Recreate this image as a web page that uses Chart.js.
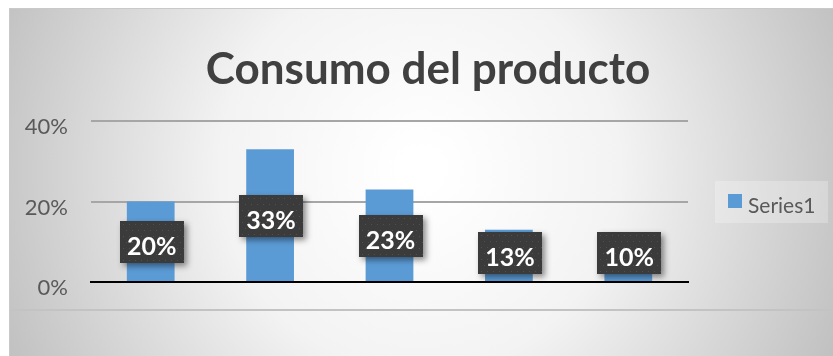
<!DOCTYPE html>
<html>
<head>
<meta charset="utf-8">
<script src="https://cdn.jsdelivr.net/npm/chart.js@4.4.1/dist/chart.umd.min.js"></script>
<style>
  html, body { margin: 0; padding: 0; background: #fff; }
  #wrap { width: 833px; height: 356px; position: relative; }
</style>
</head>
<body>
<div id="wrap"><canvas id="consumoChart" width="833" height="356"></canvas></div>
<script>
// datos del gráfico
const categorias = ['1', '2', '3', '4', '5'];
const consumo = [0.20, 0.33, 0.23, 0.13, 0.10];
const ticksY = [0, 0.2, 0.4];
const nombreSerie = 'Series1';
const titulo = 'Consumo del producto';

const azul = '#5B9BD5';
const FONT = 'Lato, "Open Sans", sans-serif';

// fondo con degradado y borde del área del gráfico
const fondoPlugin = {
    id: 'fondo',
    beforeDraw(chart) {
        const ctx = chart.ctx;
        ctx.save();
        ctx.fillStyle = '#ffffff';
        ctx.fillRect(0, 0, chart.width, chart.height);
        const g = ctx.createRadialGradient(420, 170, 20, 420, 170, 470);
        g.addColorStop(0, '#ffffff');
        g.addColorStop(0.4, '#f3f3f3');
        g.addColorStop(1, '#bdbdbd');
        ctx.fillStyle = g;
        ctx.fillRect(9, 8, chart.width - 9, chart.height - 8);
        ctx.strokeStyle = '#c9c9c9';
        ctx.lineWidth = 1;
        ctx.strokeRect(9.5, 8.5, chart.width, chart.height);
        // línea inferior
        ctx.strokeStyle = '#c3c3c3';
        ctx.lineWidth = 2;
        ctx.beginPath();
        ctx.moveTo(10, 310);
        ctx.lineTo(chart.width, 310);
        ctx.stroke();
        // título
        ctx.fillStyle = '#404040';
        ctx.font = 'bold 44px ' + FONT;
        ctx.textAlign = 'center';
        ctx.textBaseline = 'alphabetic';
        ctx.fillText(titulo, 428, 84);
        // leyenda
        ctx.fillStyle = 'rgba(255,255,255,0.25)';
        ctx.fillRect(715, 181, 113, 42);
        ctx.fillStyle = azul;
        ctx.fillRect(728, 194, 14, 14);
        ctx.fillStyle = '#595959';
        ctx.font = '21px ' + FONT;
        ctx.textAlign = 'left';
        ctx.textBaseline = 'middle';
        ctx.fillText(nombreSerie, 748, 206);
        ctx.restore();
    }
};

// etiquetas de datos en recuadro oscuro punteado
const etiquetasPlugin = {
    id: 'etiquetas',
    afterDatasetsDraw(chart) {
        const ctx = chart.ctx;
        const meta = chart.getDatasetMeta(0);
        const base = chart.scales.y.getPixelForValue(0);
        const w = 64, h = 42;
        meta.data.forEach((bar, i) => {
            const cx = bar.x + 1;
            let cy = (bar.y + base) / 2;
            cy = Math.min(cy, base - 29);
            const x = Math.round(cx - w / 2), y = Math.round(cy - h / 2);
            ctx.save();
            ctx.shadowColor = 'rgba(0,0,0,0.45)';
            ctx.shadowBlur = 6;
            ctx.shadowOffsetX = 3;
            ctx.shadowOffsetY = 3;
            ctx.fillStyle = '#3b3b3b';
            ctx.fillRect(x, y, w, h);
            ctx.restore();
            ctx.save();
            ctx.fillStyle = '#505050';
            for (let py = y + 3; py < y + h; py += 6) {
                for (let px = x + 3 + ((py - y) % 12 === 3 ? 0 : 3); px < x + w; px += 6) {
                    ctx.fillRect(px, py, 1, 1);
                }
            }
            ctx.fillStyle = '#ffffff';
            ctx.font = 'bold 25px ' + FONT;
            ctx.textAlign = 'center';
            ctx.textBaseline = 'middle';
            ctx.fillText(Math.round(consumo[i] * 100) + '%', cx, cy + 5);
            ctx.restore();
        });
    }
};

new Chart(document.getElementById('consumoChart'), {
    type: 'bar',
    data: {
        labels: categorias,
        datasets: [{
            label: nombreSerie,
            data: consumo,
            backgroundColor: azul,
            borderWidth: 0,
            barPercentage: 0.4,
            categoryPercentage: 1
        }]
    },
    options: {
        responsive: false,
        animation: false,
        layout: { padding: { top: 121, right: 145, bottom: 74, left: 0 } },
        plugins: {
            legend: { display: false },
            title: { display: false },
            tooltip: { enabled: false }
        },
        scales: {
            x: {
                grid: { display: false },
                ticks: { display: false },
                border: { display: true, color: '#000000', width: 2 },
                afterFit(scale) { scale.height = 0; }
            },
            y: {
                min: 0,
                max: 0.4,
                afterBuildTicks(scale) { scale.ticks = ticksY.map(v => ({ value: v })); },
                afterFit(scale) { scale.width = 91; },
                grid: { color: '#a6a6a6', lineWidth: 2, drawTicks: false },
                border: { display: false },
                ticks: {
                    padding: 23,
                    labelOffset: 6,
                    color: '#595959',
                    font: { family: FONT, size: 22 },
                    callback: v => Math.round(v * 100) + '%'
                }
            }
        }
    },
    plugins: [fondoPlugin, etiquetasPlugin]
});
</script>
</body>
</html>
